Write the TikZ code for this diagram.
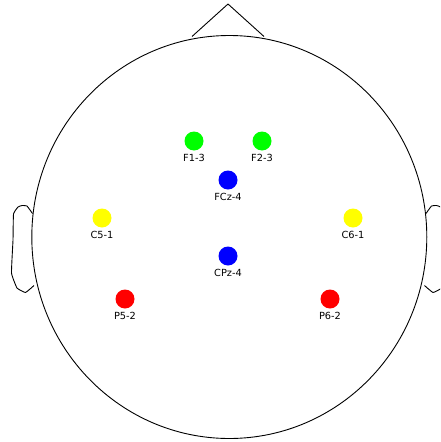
\documentclass[tikz,border=0pt]{standalone}
\usepackage{fontspec}
\setmainfont{DejaVu Sans}
\begin{document}
\begin{tikzpicture}[x=1pt,y=-1pt,
  headline/.style={line width=0.9pt, line join=round},
  elec/.style={circle, inner sep=0pt, minimum size=19pt, draw=none},
  elab/.style={font=\fontsize{9.8}{11}\selectfont, inner sep=0pt, anchor=center}]
\useasboundingbox (0,0) rectangle (440,442);
\begin{scope}
\clip (0,0) rectangle (440,442);
% head
\draw[headline] (229.3,237) ellipse [x radius=197.5, y radius=201.5];
% nose
\draw[headline] (192,36.5) -- (228,4) -- (264,36.5);
% left ear
\draw[headline] plot[smooth, tension=0.2] coordinates {(32.5,213.5) (27,206) (22,205.5) (18,207) (13.5,214) (13,240) (11.5,273) (17,288) (25.5,292.5) (34,285.5)};
% right ear
\draw[headline] plot[smooth, tension=0.2] coordinates {(426,213.5) (431.5,206) (436.5,205.5) (440.5,207) (445,214) (445.5,240) (447,273) (441.5,288) (433,292.5) (424.5,285.5)};
\end{scope}
% electrodes
\node[elec, fill={rgb,255:red,0;green,255;blue,0}] (f1) at (194,141) {};
\node[elec, fill={rgb,255:red,0;green,255;blue,0}] (f2) at (262,141) {};
\node[elec, fill={rgb,255:red,0;green,0;blue,255}] (fcz) at (228,180) {};
\node[elec, fill={rgb,255:red,255;green,255;blue,0}] (c5) at (102,218) {};
\node[elec, fill={rgb,255:red,255;green,255;blue,0}] (c6) at (353,218) {};
\node[elec, fill={rgb,255:red,0;green,0;blue,255}] (cpz) at (228,256) {};
\node[elec, fill={rgb,255:red,255;green,0;blue,0}] (p5) at (125,299) {};
\node[elec, fill={rgb,255:red,255;green,0;blue,0}] (p6) at (330,299) {};
% labels
\node[elab] (lf1) at ([yshift=-16.5pt]f1.center) {F1-3};
\node[elab] (lf2) at ([yshift=-16.5pt]f2.center) {F2-3};
\node[elab] (lfcz) at ([yshift=-16.5pt]fcz.center) {FCz-4};
\node[elab] (lc5) at ([yshift=-16.5pt]c5.center) {C5-1};
\node[elab] (lc6) at ([yshift=-16.5pt]c6.center) {C6-1};
\node[elab] (lcpz) at ([yshift=-16.5pt]cpz.center) {CPz-4};
\node[elab] (lp5) at ([yshift=-16.5pt]p5.center) {P5-2};
\node[elab] (lp6) at ([yshift=-16.5pt]p6.center) {P6-2};
\end{tikzpicture}
\end{document}
